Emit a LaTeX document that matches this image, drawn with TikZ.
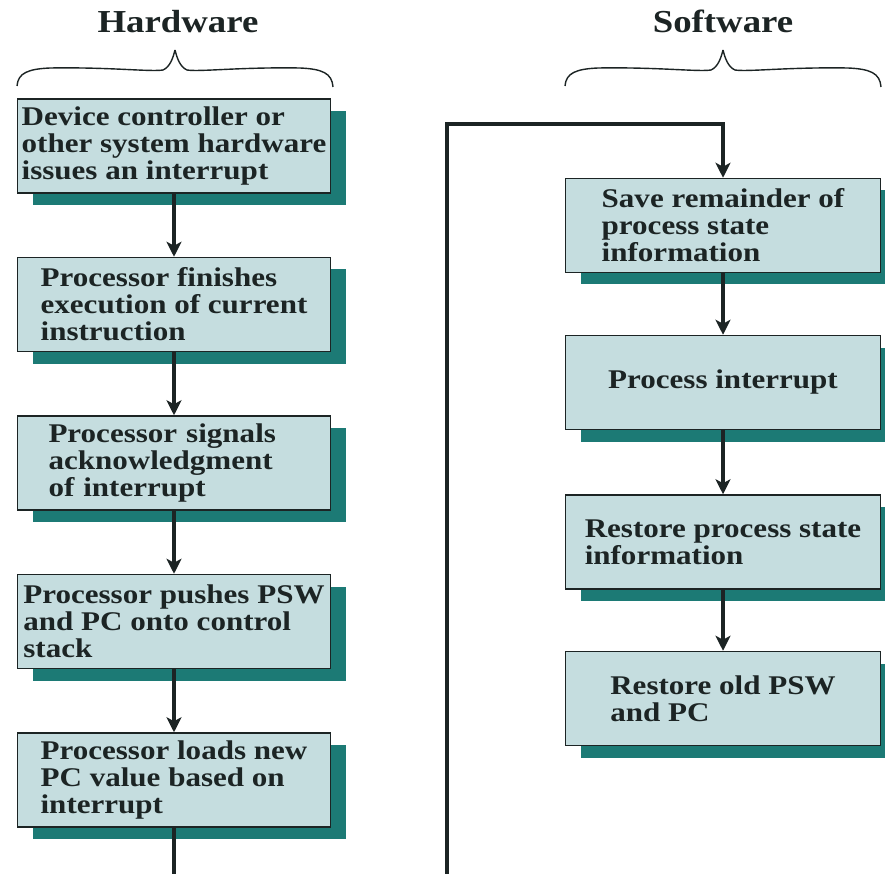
\documentclass[tikz,border=0pt]{standalone}
\usepackage{fontspec}
\setmainfont{Liberation Serif}[FakeStretch=1.15]
\usetikzlibrary{arrows.meta,shadows}

\definecolor{boxfill}{RGB}{197,221,223}
\definecolor{shadowc}{RGB}{28,122,117}
\definecolor{inkc}{RGB}{28,36,36}

\tikzset{
  stepbox/.style={draw=inkc, line width=1.5pt, fill=boxfill,
    minimum width=313pt, minimum height=94pt, align=left, inner sep=0pt,
    font=\fontsize{27}{27}\selectfont\bfseries, text=inkc,
    drop shadow={shadow xshift=15pt, shadow yshift=-12pt, fill=shadowc, opacity=1}},
  flow/.style={line width=3.6pt, draw=inkc,
    -{Stealth[length=15pt,width=15pt,inset=4pt]}},
  heading/.style={font=\fontsize{32}{32}\selectfont\bfseries, text=inkc, anchor=base},
  bracec/.style={line width=1.4pt, draw=inkc},
  bracepic/.pic={
    \draw[bracec] (-158,36) .. controls (-157,23) and (-147,19) .. (-125,18)
      .. controls (-65,17) and (-25,22) .. (-12,20)
      .. controls (-5,17) and (-2,8) .. (0,0);
    \draw[bracec] (158,37) .. controls (157,23) and (147,19) .. (125,18)
      .. controls (65,17) and (25,22) .. (12,20)
      .. controls (5,17) and (2,8) .. (0,0);
  }
}

\begin{document}
\begin{tikzpicture}[x=1pt,y=-1pt]
\useasboundingbox (0,0) rectangle (885,874);
\fill[white] (0,0) rectangle (885,874);
\clip (0,0) rectangle (885,874);

% column headings with braces
\node[heading] (hwlabel) at (178,33) {Hardware};
\node[heading] (swlabel) at (723,33) {Software};
\pic at (175,50) {bracepic};
\pic at (723,50) {bracepic};

% hardware steps
\node[stepbox] (h1) at (174,146) {Device controller or\\other system hardware\\issues an interrupt};
\node[stepbox] (h2) at (174,304.5) {Processor finishes\\execution of current\\instruction};
\node[stepbox, text width=251pt] (h3) at (174,463) {Processor signals\\acknowledgment\\of interrupt};
\node[stepbox] (h4) at (174,621.5) {Processor pushes PSW\\and PC onto control\\stack};
\node[stepbox] (h5) at (174,780) {Processor loads new\\PC value based on\\interrupt};

% software steps
\node[stepbox, minimum width=315pt] (s1) at (723,225.5) {Save remainder of\\process state\\information};
\node[stepbox, minimum width=315pt] (s2) at (723,382.5) {Process interrupt};
\node[stepbox, minimum width=315pt] (s3) at (723,542) {Restore process state\\information};
\node[stepbox, minimum width=315pt] (s4) at (723,698.5) {Restore old PSW\\and PC};

% flow
\draw[flow] (h1) -- (h2);
\draw[flow] (h2) -- (h3);
\draw[flow] (h3) -- (h4);
\draw[flow] (h4) -- (h5);
\draw[flow] (s1) -- (s2);
\draw[flow] (s2) -- (s3);
\draw[flow] (s3) -- (s4);

% hand-over from hardware to software
\coordinate (hb) at (174,900);
\coordinate (sb) at (447,900);
\coordinate (tp) at (447,124);
\draw[flow] (h5) -- (hb) -- (sb) -- (tp) -| (s1.north);
\end{tikzpicture}
\end{document}
